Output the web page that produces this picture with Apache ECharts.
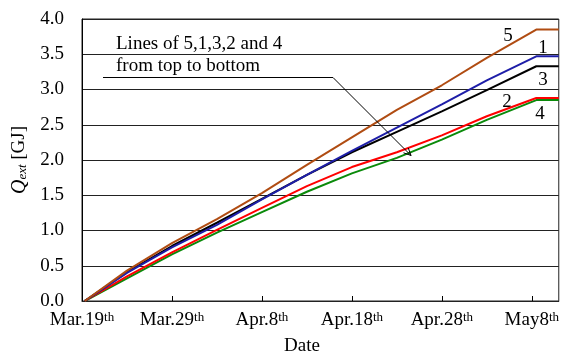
<!DOCTYPE html>
<html>
<head>
<meta charset="utf-8">
<script src="https://cdn.jsdelivr.net/npm/echarts@6/dist/echarts.min.js"></script>
<style>html,body{margin:0;padding:0;background:#fff;}#c{width:562px;height:354px;}</style>
</head>
<body>
<div id="c"></div>
<script>
// days since Mar.19
var days = [0.3, 5, 10, 15, 20, 25, 30, 35, 40, 45, 50.5, 53];
var line5 = [0, 0.43, 0.82, 1.16, 1.53, 1.93, 2.32, 2.71, 3.06, 3.45, 3.85, 3.85];
var line1 = [0, 0.40, 0.76, 1.08, 1.44, 1.79, 2.13, 2.46, 2.79, 3.13, 3.47, 3.47];
var line3 = [0, 0.41, 0.78, 1.11, 1.45, 1.79, 2.11, 2.40, 2.69, 2.99, 3.33, 3.33];
var line2 = [0, 0.35, 0.69, 1.01, 1.32, 1.63, 1.90, 2.11, 2.35, 2.62, 2.88, 2.88];
var line4 = [0, 0.32, 0.66, 0.97, 1.26, 1.55, 1.81, 2.03, 2.29, 2.57, 2.85, 2.85];
var xTickLabels = ['Mar.19', 'Mar.29', 'Apr.8', 'Apr.18', 'Apr.28', 'May8'];
var seriesNames = ['5', '1', '3', '2', '4'];

var FONT = 'Liberation Serif';
var FS = 19;
function pairs(v) { return days.map(function (d, i) { return [d, v[i]]; }); }
var colors = ['#b04c12', '#1e1ea8', '#000000', '#ff0000', '#0a8a0a'];
var vals = [line5, line1, line3, line2, line4];

var chart = echarts.init(document.getElementById('c'), null, { renderer: 'canvas' });
chart.setOption({
  animation: false,
  backgroundColor: '#fff',
  grid: { left: 82, top: 19, right: 3, bottom: 53, show: true, borderColor: '#222', borderWidth: 1 },
  xAxis: {
    type: 'value', min: 0, max: 53, interval: 10,
    axisLine: { show: true, lineStyle: { color: '#222', width: 1 } },
    axisTick: { show: true, inside: true, length: 5, lineStyle: { color: '#000' } },
    splitLine: { show: false },
    axisLabel: {
      showMaxLabel: false, margin: 10,
      fontFamily: FONT, fontSize: FS, color: '#000',
      formatter: function (v) { var i = Math.round(v / 10); return xTickLabels[i] !== undefined ? xTickLabels[i] + '{s|th}' : ''; },
      rich: { s: { fontFamily: FONT, fontSize: 13, color: '#000', verticalAlign: 'top', padding: [0, 0, 6, 0] } }
    }
  },
  yAxis: {
    type: 'value', min: 0, max: 4, interval: 0.5,
    name: '{q|Q}{sub|ext} [GJ]', nameLocation: 'middle', nameGap: 47, nameRotate: 90,
    nameTextStyle: {
      fontFamily: FONT, fontSize: FS, color: '#000',
      rich: {
        q: { fontFamily: FONT, fontSize: 20, fontStyle: 'italic', color: '#000' },
        sub: { fontFamily: FONT, fontSize: 13, fontStyle: 'italic', color: '#000', verticalAlign: 'bottom', padding: [6, 0, 0, 0] }
      }
    },
    axisLine: { show: true, lineStyle: { color: '#000', width: 1 } },
    axisTick: { show: false },
    splitLine: { show: true, lineStyle: { color: '#222', width: 1 } },
    axisLabel: { margin: 18, fontFamily: FONT, fontSize: FS, color: '#000', formatter: function (v) { return v.toFixed(1); } }
  },
  series: vals.map(function (v, i) {
    return { name: seriesNames[i], type: 'line', data: pairs(v), showSymbol: false, symbol: 'none',
      lineStyle: { color: colors[i], width: 2 }, z: 5 - i };
  }),
  graphic: [
    { type: 'text', left: 116, top: 35, style: { text: 'Lines of 5,1,3,2 and 4', fontFamily: FONT, fontSize: FS, fill: '#000' } },
    { type: 'text', left: 116, top: 57, style: { text: 'from top to bottom', fontFamily: FONT, fontSize: FS, fill: '#000' } },
    { type: 'polyline', shape: { points: [[103, 77.5], [333, 77.5], [411, 155.5]] }, style: { stroke: '#000', lineWidth: 1, fill: null }, z: 10 },
    { type: 'polyline', shape: { points: [[403.5, 152.8], [411, 155.5], [408.3, 148]] }, style: { stroke: '#000', lineWidth: 1, fill: null }, z: 10 },
    { type: 'text', x: 508, y: 36, style: { text: '5', fontFamily: FONT, fontSize: FS, fill: '#000', align: 'center', verticalAlign: 'middle' } },
    { type: 'text', x: 543, y: 48, style: { text: '1', fontFamily: FONT, fontSize: FS, fill: '#000', align: 'center', verticalAlign: 'middle' } },
    { type: 'text', x: 543, y: 80, style: { text: '3', fontFamily: FONT, fontSize: FS, fill: '#000', align: 'center', verticalAlign: 'middle' } },
    { type: 'text', x: 507, y: 102, style: { text: '2', fontFamily: FONT, fontSize: FS, fill: '#000', align: 'center', verticalAlign: 'middle' } },
    { type: 'text', x: 540, y: 114, style: { text: '4', fontFamily: FONT, fontSize: FS, fill: '#000', align: 'center', verticalAlign: 'middle' } },
    { type: 'text', x: 302, y: 346, style: { text: 'Date', fontFamily: FONT, fontSize: FS, fill: '#000', align: 'center', verticalAlign: 'middle' } }
  ]
});
</script>
</body>
</html>
